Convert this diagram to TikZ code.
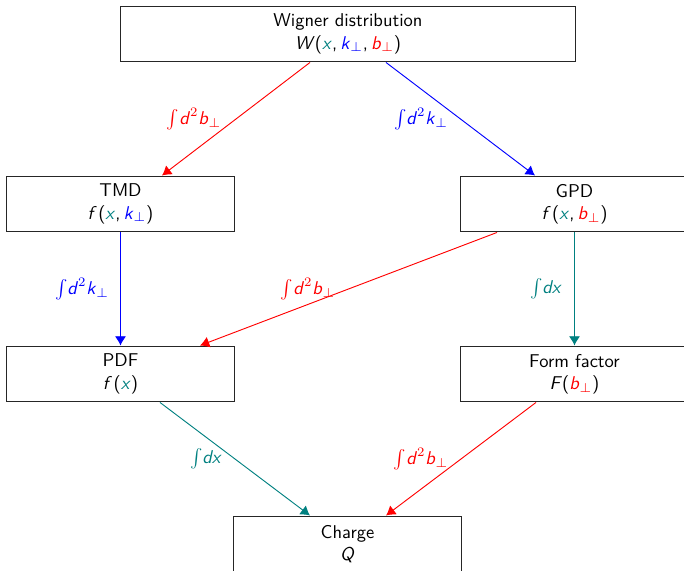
\documentclass[tikz,border=0pt]{standalone}
\usetikzlibrary{calc,arrows.meta}
\newcommand{\sv}[1]{\mbox{\sffamily\itshape #1\/}}
\newcommand{\pp}{$_\perp$}
\tikzset{
  box/.style={draw=black!85, line width=0.55pt, rectangle, inner sep=0pt, minimum width=122.6pt, minimum height=30.2pt, align=center, font=\sffamily},
  widebox/.style={box, minimum width=245.2pt},
  conn/.style={line width=0.5pt, -{Latex[length=5pt,width=6pt]}},
  lbl/.style={font=\sffamily, inner sep=0pt},
}
\begin{document}
\begin{tikzpicture}[x=0.54pt,y=-0.54pt]
\useasboundingbox (0,0) rectangle (684,571);
\node[widebox] (W) at (348,34) {Wigner distribution\\\textit{W}({\color{teal}\textit{x}},\,{\color{blue}\textit{k}\pp},\,{\color{red}\textit{b}\pp})};
\node[box] (TMD) at (120.5,204) {TMD\\\textit{f}\kern0.8pt({\color{teal}\textit{x}},\,{\color{blue}\textit{k}\pp})};
\node[box] (GPD) at (574.5,204) {GPD\\\textit{f}\kern0.8pt({\color{teal}\textit{x}},\,{\color{red}\textit{b}\pp})};
\node[box] (PDF) at (120.5,374) {PDF\\\textit{f}\kern0.8pt({\color{teal}\textit{x}})};
\node[box] (FF) at (574.5,374) {Form factor\\\textit{F}({\color{red}\textit{b}\pp})};
\node[box] (Q) at (347.5,544) {Charge\\\textit{Q}};

\draw[conn, red] ($(W.south)+(-38,0)$) -- ($(TMD.north)+(41.5,0)$);
\draw[conn, blue] ($(W.south)+(38,0)$) -- ($(GPD.north)+(-39.5,0)$);
\draw[conn, blue] (TMD.south) -- (PDF.north);
\draw[conn, red] ($(GPD.south)+(-77.5,0)$) -- ($(PDF.north)+(79.5,0)$);
\draw[conn, teal] (GPD.south) -- (FF.north);
\draw[conn, teal] ($(PDF.south)+(39.5,0)$) -- ($(Q.north)+(-37.5,0)$);
\draw[conn, red] ($(FF.south)+(-38.5,0)$) -- ($(Q.north)+(38.5,0)$);

\node[lbl, text=red] (l1) at (194,119) {$\int\!\sv{d}^2 \sv{b}_\perp$};
\node[lbl, text=blue] (l2) at (421,119) {$\int\!\sv{d}^2 \sv{k}_\perp$};
\node[lbl, text=blue] (l3) at (82,289) {$\int\!\sv{d}^2 \sv{k}_\perp$};
\node[lbl, text=red] (l4) at (308,289) {$\int\!\sv{d}^2 \sv{b}_\perp$};
\node[lbl, text=teal] (l5) at (546,289) {$\int\!\sv{dx}$};
\node[lbl, text=teal] (l6) at (206,459) {$\int\!\sv{dx}$};
\node[lbl, text=red] (l7) at (421,459) {$\int\!\sv{d}^2 \sv{b}_\perp$};
\end{tikzpicture}
\end{document}
